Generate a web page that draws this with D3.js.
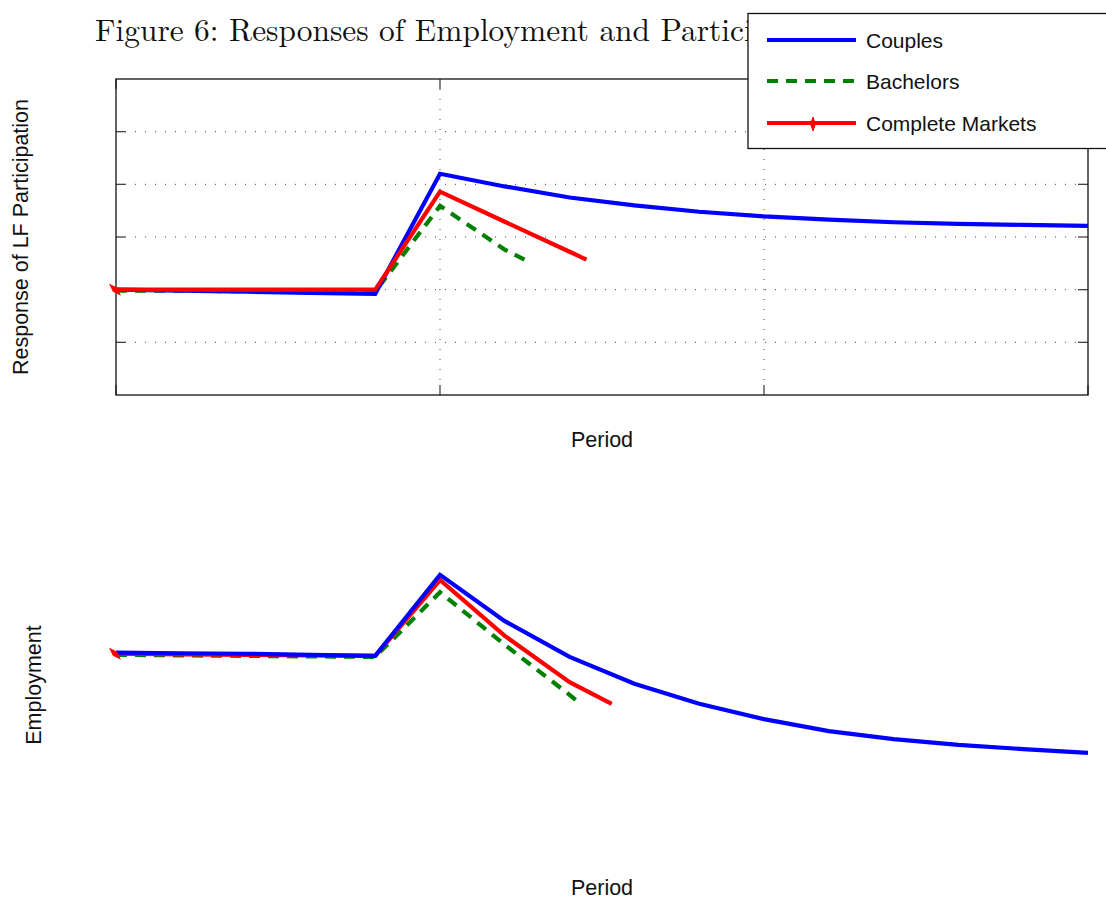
<!DOCTYPE html>
<html>
<head>
<meta charset="utf-8">
<script src="https://cdn.jsdelivr.net/npm/d3@7"></script>
<style>
  html, body { margin: 0; padding: 0; background: #fff; }
  svg { display: block; }
</style>
</head>
<body>
<svg id="chart" width="1106" height="899"></svg>
<script>
// ---------------- data ----------------
const seriesNames = ["Couples", "Bachelors", "Complete Markets"];
const xTicks = [0, 5, 10, 15];
const yTicksTop = [-0.01, 0, 0.01, 0.02, 0.03];

// Top panel: Response of LF Participation
const lfCouplesPeriods = [0,1,2,3,4,5,6,7,8,9,10,11,12,13,14,15];
const lfCouples = [0, -0.0002, -0.0004, -0.0006, -0.0008, 0.0220, 0.0196, 0.0175, 0.0160, 0.0148, 0.0139, 0.0133, 0.0128, 0.0125, 0.0123, 0.0121];
const lfBachelorsPeriods = [0,1,2,3,4,5,6,6.4];
const lfBachelors = [-0.0002, -0.0002, -0.0003, -0.0003, -0.0004, 0.0159, 0.0076, 0.0051];
const lfCompletePeriods = [0,1,2,3,4,5,6,7,7.26];
const lfComplete = [0, 0, 0, 0, 0, 0.0186, 0.0129, 0.0072, 0.0057];

// Bottom panel: Employment
const empCouplesPeriods = [0,1,2,3,4,5,6,7,8,9,10,11,12,13,14,15];
const empCouples = [0.0002, 0.0001, 0, -0.0002, -0.0004, 0.0150, 0.0062, -0.0006, -0.0057, -0.0095, -0.0124, -0.0147, -0.0162, -0.0173, -0.0181, -0.0188];
const empBachelorsPeriods = [0,1,2,3,4,5,6,7,7.1];
const empBachelors = [-0.0002, -0.0003, -0.0004, -0.0005, -0.0006, 0.0117, 0.0017, -0.0078, -0.0088];
const empCompletePeriods = [0,1,2,3,4,5,6,7,7.65];
const empComplete = [0, -0.0001, -0.0002, -0.0003, -0.0004, 0.0140, 0.0034, -0.0054, -0.0095];

// ---------------- styling ----------------
const colors = { "Couples": "#0000ff", "Bachelors": "#008000", "Complete Markets": "#ff0000" };
const dashes = { "Couples": null, "Bachelors": "11,8", "Complete Markets": null };
const sansFont = "'Liberation Sans', Arial, Helvetica, sans-serif";
const serifFont = "'Latin Modern Roman', 'CMU Serif', 'Liberation Serif', 'Times New Roman', serif";

const svg = d3.select("#chart");
const L = 116, R = 1088;
const top1 = 79, bot1 = 395;
const top2 = 530, bot2 = 846;

const x = d3.scaleLinear().domain([0, 15]).range([L, R]);
const yTop = d3.scaleLinear().domain([-0.02, 0.04]).range([bot1, top1]);
const yBot = d3.scaleLinear().domain([-0.0365, 0.0235]).range([bot2, top2]);

function zip(ps, vs) { return ps.map((p, i) => ({ p, v: vs[i] })); }

// ---------------- title ----------------
const title = svg.append("text")
  .attr("x", 95).attr("y", 41)
  .attr("font-family", serifFont)
  .attr("fill", "#111")
  .text("Figure 6: Responses of Employment and Partici");
let fs = 30;
title.attr("font-size", fs);
const w = title.node().getComputedTextLength();
fs = fs * 658 / w;
title.attr("font-size", fs).text("Figure 6: Responses of Employment and Participation");

// ---------------- top panel ----------------
const g1 = svg.append("g");
g1.selectAll("line.hg").data(yTicksTop).enter().append("line")
  .attr("x1", L + 10).attr("x2", R - 10)
  .attr("y1", d => yTop(d)).attr("y2", d => yTop(d))
  .attr("stroke", "#444").attr("stroke-width", 1)
  .attr("stroke-dasharray", "1,9").attr("stroke-dashoffset", -9);
g1.selectAll("line.vg").data(xTicks.slice(1, -1)).enter().append("line")
  .attr("x1", d => x(d)).attr("x2", d => x(d))
  .attr("y1", top1 + 10).attr("y2", bot1 - 10)
  .attr("stroke", "#444").attr("stroke-width", 1)
  .attr("stroke-dasharray", "1,9");
yTicksTop.forEach(t => {
  g1.append("line").attr("x1", L).attr("x2", L + 10).attr("y1", yTop(t)).attr("y2", yTop(t)).attr("stroke", "#444").attr("stroke-width", 1.3);
  g1.append("line").attr("x1", R - 10).attr("x2", R).attr("y1", yTop(t)).attr("y2", yTop(t)).attr("stroke", "#444").attr("stroke-width", 1.3);
});
xTicks.forEach(t => {
  g1.append("line").attr("x1", x(t)).attr("x2", x(t)).attr("y1", bot1).attr("y2", bot1 - 10).attr("stroke", "#444").attr("stroke-width", 1.3);
  g1.append("line").attr("x1", x(t)).attr("x2", x(t)).attr("y1", top1).attr("y2", top1 + 10).attr("stroke", "#444").attr("stroke-width", 1.3);
});
g1.append("rect").attr("x", L).attr("y", top1).attr("width", R - L).attr("height", bot1 - top1)
  .attr("fill", "none").attr("stroke", "#111").attr("stroke-width", 1.3);

function drawLines(g, yS, sets) {
  const line = d3.line().x(d => x(d.p)).y(d => yS(d.v));
  sets.forEach(s => {
    g.append("path").datum(s.data)
      .attr("d", line)
      .attr("fill", "none")
      .attr("stroke", colors[s.name])
      .attr("stroke-width", 4.2)
      .attr("stroke-linejoin", "miter")
      .attr("stroke-dasharray", dashes[s.name]);
  });
  const cm = sets.find(s => s.name === "Complete Markets").data[0];
  g.append("path")
    .attr("d", "M0,-7 L2.4,0 L0,7 L-2.4,0Z")
    .attr("transform", `translate(${x(cm.p) - 1},${yS(cm.v)}) rotate(-45)`)
    .attr("fill", colors["Complete Markets"])
    .attr("stroke", colors["Complete Markets"]).attr("stroke-width", 1);
}

drawLines(g1, yTop, [
  { name: "Bachelors", data: zip(lfBachelorsPeriods, lfBachelors) },
  { name: "Couples", data: zip(lfCouplesPeriods, lfCouples) },
  { name: "Complete Markets", data: zip(lfCompletePeriods, lfComplete) }
]);

// ---------------- bottom panel ----------------
const g2 = svg.append("g");
drawLines(g2, yBot, [
  { name: "Bachelors", data: zip(empBachelorsPeriods, empBachelors) },
  { name: "Complete Markets", data: zip(empCompletePeriods, empComplete) },
  { name: "Couples", data: zip(empCouplesPeriods, empCouples) }
]);

// ---------------- axis labels ----------------
svg.append("text").attr("x", x(7.5)).attr("y", 447)
  .attr("text-anchor", "middle").attr("font-family", sansFont).attr("font-size", 21.5).attr("fill", "#111")
  .text("Period");
svg.append("text").attr("x", x(7.5)).attr("y", 895)
  .attr("text-anchor", "middle").attr("font-family", sansFont).attr("font-size", 21.5).attr("fill", "#111")
  .text("Period");
svg.append("text").attr("transform", `translate(28,${(top1 + bot1) / 2}) rotate(-90)`)
  .attr("text-anchor", "middle").attr("font-family", sansFont).attr("font-size", 21.5).attr("fill", "#111")
  .text("Response of LF Participation");
svg.append("text").attr("transform", `translate(41,685) rotate(-90)`)
  .attr("text-anchor", "middle").attr("font-family", sansFont).attr("font-size", 21.5).attr("fill", "#111")
  .text("Employment");

// ---------------- legend ----------------
const lg = svg.append("g");
lg.append("rect").attr("x", 748).attr("y", 13.5).attr("width", 400).attr("height", 135)
  .attr("fill", "#fff").attr("stroke", "#111").attr("stroke-width", 1.3);
const legendY = [40, 81, 123];
seriesNames.forEach((n, i) => {
  lg.append("line").attr("x1", 767).attr("x2", 856).attr("y1", legendY[i]).attr("y2", legendY[i])
    .attr("stroke", colors[n]).attr("stroke-width", 4.2).attr("stroke-dasharray", dashes[n]);
  if (n === "Complete Markets") {
    lg.append("path").attr("d", "M0,-7 L2.4,0 L0,7 L-2.4,0Z")
      .attr("transform", `translate(813,${legendY[i] + 1})`)
      .attr("fill", colors[n]).attr("stroke", colors[n]).attr("stroke-width", 1);
  }
  lg.append("text").attr("x", 866).attr("y", legendY[i] + 7.5)
    .attr("font-family", sansFont).attr("font-size", 21).attr("fill", "#111")
    .text(n);
});
</script>
</body>
</html>
